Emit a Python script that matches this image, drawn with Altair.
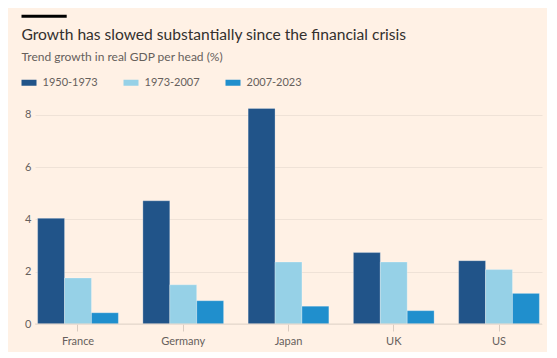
import altair as alt
import pandas as pd

countries = ["France", "Germany", "Japan", "UK", "US"]
periods = ["1950-1973", "1973-2007", "2007-2023"]
v_1950_1973 = [4.04, 4.71, 8.24, 2.73, 2.42]
v_1973_2007 = [1.76, 1.50, 2.37, 2.37, 2.08]
v_2007_2023 = [0.43, 0.89, 0.68, 0.51, 1.17]
colors = ["#215489", "#96D1E7", "#208FCD"]
y_ticks = [0, 2, 4, 6, 8]

title_text = "Growth has slowed substantially since the financial crisis"
subtitle_text = "Trend growth in real GDP per head (%)"

rows = []
for i, c in enumerate(countries):
    for p, vals in zip(periods, [v_1950_1973, v_1973_2007, v_2007_2023]):
        rows.append({"country": c, "period": p, "value": vals[i]})
df = pd.DataFrame(rows)

FONT = "Lato"
BG = "#FFF1E5"

bars = alt.Chart(df).mark_bar(stroke="#ffffff", strokeWidth=0.8, strokeOpacity=0.35).encode(
    x=alt.X("country:N", sort=countries, title=None,
            scale=alt.Scale(paddingInner=0.233, paddingOuter=0.025),
            axis=alt.Axis(labelAngle=0, labelFont=FONT, labelFontSize=11, labelColor="#66605C",
                          domain=False, ticks=True, tickColor="#D9CCC1", tickSize=7,
                          labelPadding=4, grid=False)),
    xOffset=alt.XOffset("period:N", sort=periods),
    y=alt.Y("value:Q", title=None,
            scale=alt.Scale(domain=[0, 8.6], nice=False),
            axis=alt.Axis(values=y_ticks, labelFont=FONT, labelFontSize=11, labelColor="#66605C",
                          domain=False, ticks=False, labelPadding=4,
                          gridColor="#EFE2D7", gridWidth=1)),
    color=alt.Color("period:N", sort=periods,
                    scale=alt.Scale(domain=periods, range=colors),
                    legend=alt.Legend(title=None, orient="none", direction="horizontal",
                                      legendX=-13.5, legendY=-24,
                                      symbolType="M-1,-0.4H1V0.4H-1Z", symbolSize=225,
                                      symbolStrokeWidth=0, symbolOpacity=1,
                                      labelFont=FONT, labelFontSize=11, labelColor="#66605C",
                                      labelOffset=6, columnPadding=25)),
)

baseline = alt.Chart(pd.DataFrame({"y": [0]})).mark_rule(color="#E3D6CB", strokeWidth=1).encode(
    y="y:Q"
)

deco = alt.Chart(pd.DataFrame({"a": [0]})).mark_rule(color="#000000", strokeWidth=3).encode(
    x=alt.value(-13.5), x2=alt.value(31.7), y=alt.value(-82.7)
)

title = alt.Chart(pd.DataFrame({"t": [title_text]})).mark_text(
    align="left", baseline="alphabetic", font=FONT, fontSize=15.6, color="#33302E"
).encode(text="t:N", x=alt.value(-13.5), y=alt.value(-59.5))

subtitle = alt.Chart(pd.DataFrame({"t": [subtitle_text]})).mark_text(
    align="left", baseline="alphabetic", font=FONT, fontSize=12, color="#66605C"
).encode(text="t:N", x=alt.value(-13.5), y=alt.value(-38.5))

chart = alt.layer(bars, baseline, deco, title, subtitle).properties(
    width=507, height=225,
    background=BG,
    padding={"left": 27, "top": 91, "right": 5, "bottom": 28},
    autosize=alt.AutoSizeParams(type="none"),
).configure_view(stroke=None)

chart.save("out.html", embed_options={"renderer": "svg", "actions": False})
